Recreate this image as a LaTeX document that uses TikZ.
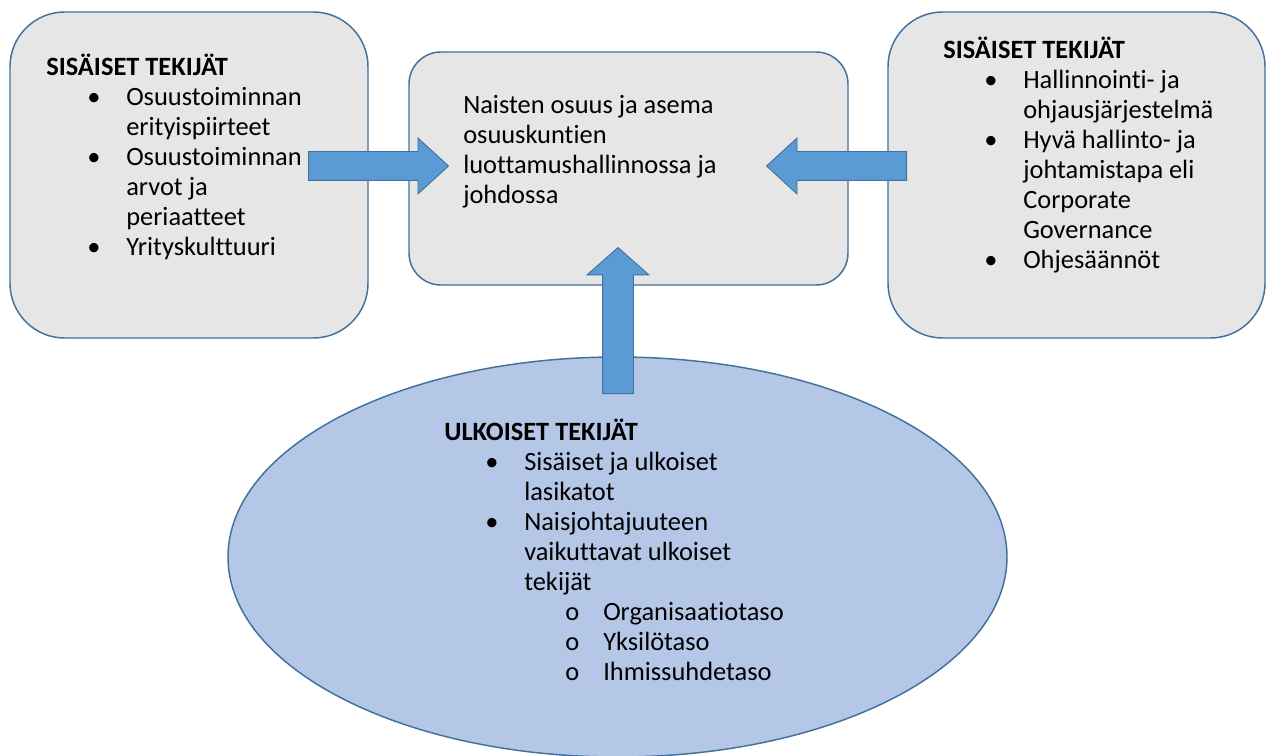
\documentclass[tikz,border=0pt]{standalone}
\usepackage{fontspec}
\setmainfont{Carlito}[Ligatures=NoCommon]
\usetikzlibrary{shapes.geometric,shapes.arrows,positioning}
\definecolor{boxfill}{HTML}{E7E6E6}
\definecolor{rim}{HTML}{41719C}
\definecolor{arrowfill}{HTML}{5B9BD5}
\definecolor{ovalfill}{HTML}{B4C7E7}
\tikzset{box/.style={draw=rim,fill=boxfill,line width=1.1pt,rectangle,inner sep=0pt}}
\tikzset{oval/.style={draw=rim,fill=ovalfill,line width=1.1pt,ellipse,inner sep=0pt}}
\tikzset{blockarrow/.style={draw=rim,fill=arrowfill,line width=0.7pt,single arrow,
    inner xsep=0pt,inner ysep=10.5pt,single arrow head extend=10.1pt,
    single arrow tip angle=85,minimum height=105pt,anchor=tail}}
\tikzset{txt/.style={anchor=north west,align=left,inner sep=0pt,
    font=\fontsize{19.8}{22.5}\selectfont}}
\newcommand\itm{\strut\hspace*{30.75pt}\makebox[29.25pt][l]{\textbullet}}
\newcommand\cnt{\strut\hspace*{60pt}}
\newcommand\subitm{\strut\hspace*{90.75pt}\makebox[28.5pt][l]{o}}

\begin{document}
\begin{tikzpicture}[x=0.75pt,y=-0.75pt]
        \useasboundingbox (0,0) rectangle (1267,756);
        \node(sisL)[box,minimum width=268.5pt,minimum height=244.5pt,rounded corners=41pt] at (189,175) {};
        \node(tav)[box,minimum width=329.25pt,minimum height=174.75pt,rounded corners=24pt] at (628.5,168.5) {};
        \node(sisR)[box,minimum width=282.75pt,minimum height=244.5pt,rounded corners=41pt] at (1076.5,175) {};
        \node(ulk)[oval,minimum width=584.25pt,minimum height=300pt] at (617.5,557) {};
        % block arrows
        \node(nuoliL)[blockarrow] at (308,166) {};
        \node(nuoliR)[blockarrow,shape border rotate=180] at (907,166) {};
        \node(nuoliY)[blockarrow,shape border rotate=90,inner ysep=0pt,inner xsep=11.25pt,
          single arrow head extend=11.6pt,single arrow tip angle=97,minimum height=109.5pt] at (618,394) {};
        % texts
        \node(sisLt)[txt] at (46,54) {\strut\textbf{SISÄISET TEKIJÄT}\\
          \itm Osuustoiminnan\\ \cnt erityispiirteet\\
          \itm Osuustoiminnan\\ \cnt arvot ja\\ \cnt periaatteet\\
          \itm Yrityskulttuuri};
        \node(tavt)[txt] at (463,92) {\strut Naisten osuus ja asema\\ \strut osuuskuntien\\
          \strut luottamushallinnossa ja\\ \strut johdossa};
        \node(sisRt)[txt] at (943,37) {\strut\textbf{SISÄISET TEKIJÄT}\\
          \itm Hallinnointi- ja\\ \cnt ohjausjärjestelmä\\
          \itm Hyvä hallinto- ja\\ \cnt johtamistapa eli\\ \cnt Corporate\\ \cnt Governance\\
          \itm Ohjesäännöt};
        \node(ulkt)[txt] at (444,419) {\strut\textbf{ULKOISET TEKIJÄT}\\
          \itm Sisäiset ja ulkoiset\\ \cnt lasikatot\\
          \itm Naisjohtajuuteen\\ \cnt vaikuttavat ulkoiset\\ \cnt tekijät\\
          \subitm Organisaatiotaso\\ \subitm Yksilötaso\\ \subitm Ihmissuhdetaso};
      \end{tikzpicture}
\end{document}
